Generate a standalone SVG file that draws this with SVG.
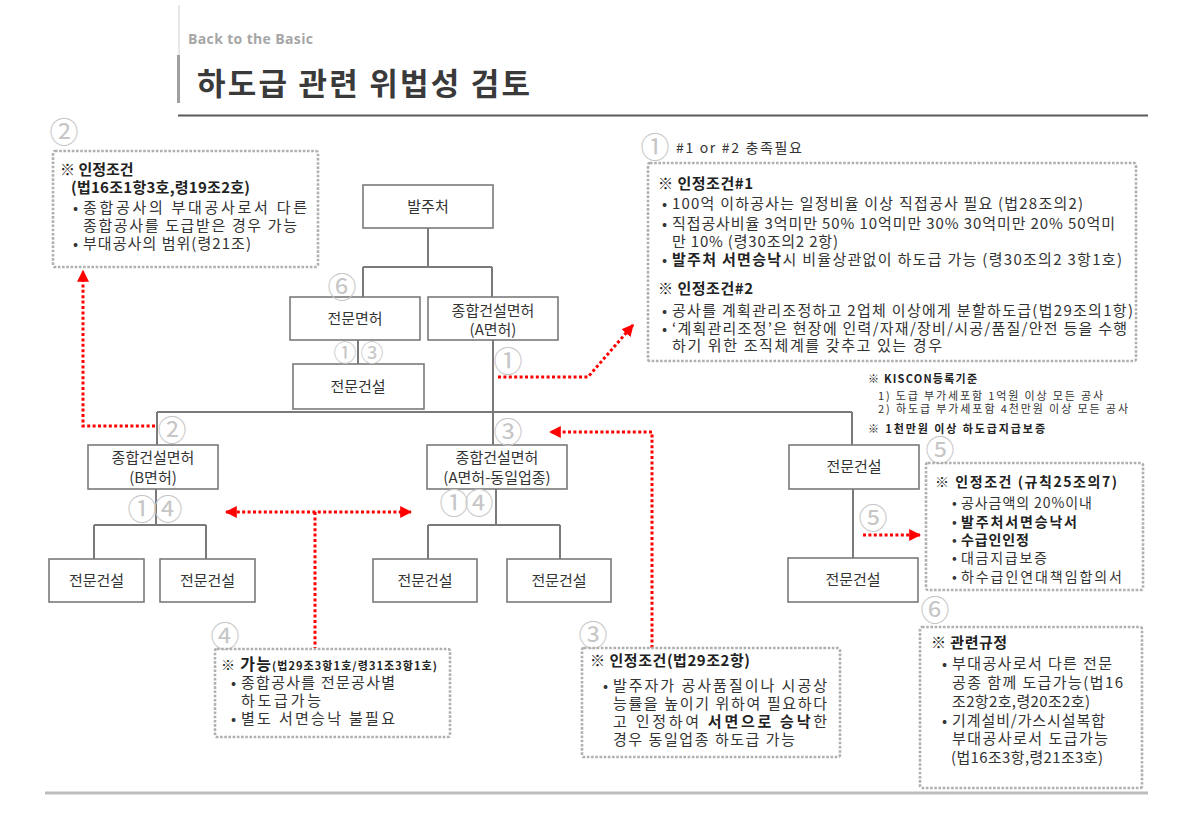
<svg xmlns="http://www.w3.org/2000/svg" width="1201" height="827" viewBox="0 0 1201 827">
<style>
text{font-family:"Noto Sans CJK KR","Noto Sans",sans-serif;fill:#333}
.node rect{fill:#fff;stroke:#7a7a7a;stroke-width:1.6}
.nt{font-size:15px;text-anchor:middle}
.conn path{stroke:#7a7a7a;stroke-width:2;fill:none}
.red{stroke:#f00;stroke-width:3;stroke-dasharray:3 2.4;fill:none}
.dot{fill:none;stroke:#b0b0b0;stroke-width:2.6;stroke-dasharray:2.6 1.6}
.c{font-size:29px;fill:#c6c6c6;text-anchor:middle}
.t{font-size:15px;fill:#333}
.s{font-size:14px;fill:#333}
.k{font-size:11px;fill:#333}
.b{font-weight:bold;fill:#222}
</style>
<defs>
<marker id="ah" viewBox="0 0 10 10" refX="9" refY="5" markerWidth="12" markerHeight="12" markerUnits="userSpaceOnUse" orient="auto-start-reverse"><path d="M0,0 L10,5 L0,10 z" fill="#f00"/></marker>
</defs>

<g id="header">
<line x1="179" y1="5" x2="179" y2="55" stroke="#d0d0d0" stroke-width="1"/>
<line x1="178.5" y1="55" x2="178.5" y2="103" stroke="#a0a0a0" stroke-width="3"/>
<text x="188" y="44" style="font-family:'Open Sans','Noto Sans',sans-serif;font-size:14px;font-weight:bold;fill:#a6a6a6" textLength="125">Back to the Basic</text>
<text x="197" y="95" style="font-size:31px;font-weight:bold;fill:#3a3a3a" textLength="333">하도급 관련 위법성 검토</text>
<line x1="178" y1="115.5" x2="1148" y2="115.5" stroke="#5a5a5a" stroke-width="2"/>
<line x1="45" y1="793" x2="1148" y2="793" stroke="#bdbdbd" stroke-width="3"/>
</g>

<g class="conn" id="connectors">
<path d="M428,228 V267 M363,267 H492 M363,267 V297 M492,267 V297"/>
<path d="M358,340 V364"/>
<path d="M493,340 V445 M157,412 H852 M157,412 V445 M852,412 V445"/>
<path d="M156,489 V525 M94,525 H206 M94,525 V559 M206,525 V559"/>
<path d="M496,489 V525 M428,525 H560 M428,525 V559 M560,525 V559"/>
<path d="M853,489 V558"/>
</g>

<g id="n-balju" class="node"><rect x="363" y="185" width="130" height="43"/><text class="nt" x="428" y="212">발주처</text></g>
<g id="n-jeonmun-myeonheo" class="node"><rect x="290" y="297" width="130" height="43"/><text class="nt" x="355" y="324">전문면허</text></g>
<g id="n-jonghap-a" class="node"><rect x="428" y="297" width="130" height="43"/><text class="nt" x="493" y="316">종합건설면허</text><text class="nt" x="493" y="335">(A면허)</text></g>
<g id="n-jeonmun-top" class="node"><rect x="293" y="364" width="131" height="45"/><text class="nt" x="358" y="392">전문건설</text></g>
<g id="n-jonghap-b" class="node"><rect x="88" y="445" width="130" height="44"/><text class="nt" x="153" y="463">종합건설면허</text><text class="nt" x="153" y="483">(B면허)</text></g>
<g id="n-jonghap-a2" class="node"><rect x="427" y="445" width="140" height="44"/><text class="nt" x="497" y="463">종합건설면허</text><text class="nt" x="497" y="483">(A면허-동일업종)</text></g>
<g id="n-jeonmun-r1" class="node"><rect x="789" y="445" width="130" height="44"/><text class="nt" x="854" y="472">전문건설</text></g>
<g id="n-jeonmun-b1" class="node"><rect x="49" y="559" width="95" height="43"/><text class="nt" x="96.5" y="586">전문건설</text></g>
<g id="n-jeonmun-b2" class="node"><rect x="160" y="559" width="95" height="43"/><text class="nt" x="207.5" y="586">전문건설</text></g>
<g id="n-jeonmun-b3" class="node"><rect x="373" y="559" width="104" height="43"/><text class="nt" x="425" y="586">전문건설</text></g>
<g id="n-jeonmun-b4" class="node"><rect x="507" y="559" width="104" height="43"/><text class="nt" x="559" y="586">전문건설</text></g>
<g id="n-jeonmun-r2" class="node"><rect x="788" y="558" width="130" height="44"/><text class="nt" x="853" y="585">전문건설</text></g>

<g id="numbers">
<text class="c" x="345" y="361" style="font-size:23px">①</text>
<text class="c" x="372" y="361" style="font-size:23px">③</text>
<text class="c" x="342" y="298">⑥</text>
<text class="c" x="508" y="372">①</text>
<text class="c" x="172" y="441">②</text>
<text class="c" x="508" y="443">③</text>
<text class="c" x="142" y="520">①</text>
<text class="c" x="168" y="520">④</text>
<text class="c" x="454" y="514">①</text>
<text class="c" x="479" y="514">④</text>
<text class="c" x="873" y="529">⑤</text>
</g>

<g id="red-arrows">
<path class="red" d="M155,426 H83 V271" marker-end="url(#ah)"/>
<path class="red" d="M498,377 H588 L633,325" marker-end="url(#ah)"/>
<path class="red" d="M652,648 V432 H550" marker-end="url(#ah)"/>
<path class="red" d="M226,512 H411" marker-start="url(#ah)" marker-end="url(#ah)"/>
<path class="red" d="M315,512 V648"/>
<path class="red" d="M863,535 H920" marker-end="url(#ah)"/>
</g>

<g id="note2">
<text class="c" x="64" y="143">②</text>
<rect class="dot" x="53" y="151" width="265" height="116" rx="2"/>
<text class="t b" x="60" y="175">※ 인정조건</text>
<text class="t b" x="71" y="193" textLength="179">(법16조1항3호,령19조2호)</text>
<text class="t" x="73" y="213">•</text><text class="t" x="83" y="213" textLength="224">종합공사의 부대공사로서 다른</text>
<text class="t" x="83" y="231" textLength="214">종합공사를 도급받은 경우 가능</text>
<text class="t" x="73" y="249">•</text><text class="t" x="83" y="249" textLength="168">부대공사의 범위(령21조)</text>
</g>

<g id="note1">
<text class="c" x="655" y="158">①</text>
<text class="s" x="676" y="153" textLength="126">#1 or #2 충족필요</text>
<rect class="dot" x="648" y="163" width="488" height="198" rx="2"/>
<text class="t b" x="658" y="189" textLength="95">※ 인정조건#1</text>
<text class="t" x="662" y="209">•</text><text class="t" x="672" y="209" textLength="411">100억 이하공사는 일정비율 이상 직접공사 필요 (법28조의2)</text>
<text class="t" x="662" y="229">•</text><text class="t" x="672" y="229" textLength="443">직접공사비율 3억미만 50% 10억미만 30% 30억미만 20% 50억미</text>
<text class="t" x="672" y="247" textLength="166">만 10% (령30조의2 2항)</text>
<text class="t" x="662" y="265">•</text><text class="t" x="672" y="265" textLength="450"><tspan class="b">발주처 서면승낙</tspan>시 비율상관없이 하도급 가능 (령30조의2 3항1호)</text>
<text class="t b" x="658" y="294" textLength="95">※ 인정조건#2</text>
<text class="t" x="662" y="316">•</text><text class="t" x="672" y="316" textLength="461">공사를 계획관리조정하고 2업체 이상에게 분할하도급(법29조의1항)</text>
<text class="t" x="662" y="334">•</text><text class="t" x="672" y="334" textLength="455">‘계획관리조정’은 현장에 인력/자재/장비/시공/품질/안전 등을 수행</text>
<text class="t" x="672" y="351" textLength="270">하기 위한 조직체계를 갖추고 있는 경우</text>
</g>

<g id="kiscon">
<text class="k b" x="868" y="383" textLength="109">※ KISCON등록기준</text>
<text class="k" x="878" y="400" textLength="225">1) 도급 부가세포함 1억원 이상 모든 공사</text>
<text class="k" x="878" y="413" textLength="250">2) 하도급 부가세포함 4천만원 이상 모든 공사</text>
<text class="k b" x="868" y="433" textLength="177">※ 1천만원 이상 하도급지급보증</text>
</g>

<g id="note5">
<text class="c" x="940" y="461">⑤</text>
<rect class="dot" x="926" y="463" width="217" height="127" rx="2"/>
<text class="s b" x="935" y="487" textLength="182">※ 인정조건 (규칙25조의7)</text>
<text class="s" x="952" y="508">•</text><text class="s" x="961" y="508" textLength="131">공사금액의 20%이내</text>
<text class="s" x="952" y="527">•</text><text class="s b" x="961" y="527" textLength="116">발주처서면승낙서</text>
<text class="s" x="952" y="545">•</text><text class="s b" x="961" y="545" textLength="68">수급인인정</text>
<text class="s" x="952" y="563">•</text><text class="s" x="961" y="563" textLength="86">대금지급보증</text>
<text class="s" x="952" y="582">•</text><text class="s" x="961" y="582" textLength="161">하수급인연대책임합의서</text>
</g>

<g id="note6">
<text class="c" x="935" y="621">⑥</text>
<rect class="dot" x="920" y="627" width="222" height="161" rx="2"/>
<text class="t b" x="931" y="648" textLength="76">※ 관련규정</text>
<text class="t" x="942" y="669">•</text><text class="t" x="952" y="669" textLength="160">부대공사로서 다른 전문</text>
<text class="t" x="952" y="688" textLength="171">공종 함께 도급가능(법16</text>
<text class="t" x="952" y="707" textLength="138">조2항2호,령20조2호)</text>
<text class="t" x="942" y="726">•</text><text class="t" x="952" y="726" textLength="153">기계설비/가스시설복합</text>
<text class="t" x="952" y="744" textLength="156">부대공사로서 도급가능</text>
<text class="t" x="951" y="763" textLength="152">(법16조3항,령21조3호)</text>
</g>

<g id="note4">
<text class="c" x="225" y="647">④</text>
<rect class="dot" x="215" y="649" width="235" height="88" rx="2"/>
<text x="221" y="670" textLength="216"><tspan style="font-size:14px;font-weight:bold;fill:#222">※ </tspan><tspan style="font-size:16px;font-weight:bold;fill:#222">가능</tspan><tspan style="font-size:11px;font-weight:bold;fill:#222">(법29조3항1호/령31조3항1호)</tspan></text>
<text class="t" x="231" y="688">•</text><text class="t" x="241" y="688" textLength="154">종합공사를 전문공사별</text>
<text class="t" x="241" y="706" textLength="80">하도급가능</text>
<text class="t" x="231" y="724">•</text><text class="t" x="241" y="724" textLength="154">별도 서면승낙 불필요</text>
</g>

<g id="note3">
<text class="c" x="593" y="646">③</text>
<rect class="dot" x="582" y="648" width="258" height="109" rx="2"/>
<text class="t b" x="590" y="666" textLength="160">※ 인정조건(법29조2항)</text>
<text class="t" x="603" y="691">•</text><text class="t" x="613" y="691" textLength="214">발주자가 공사품질이나 시공상</text>
<text class="t" x="613" y="709" textLength="214">능률을 높이기 위하여 필요하다</text>
<text class="t" x="613" y="727" textLength="214">고 인정하여 <tspan class="b">서면으로 승낙</tspan>한</text>
<text class="t" x="613" y="745" textLength="182">경우 동일업종 하도급 가능</text>
</g>
</svg>
